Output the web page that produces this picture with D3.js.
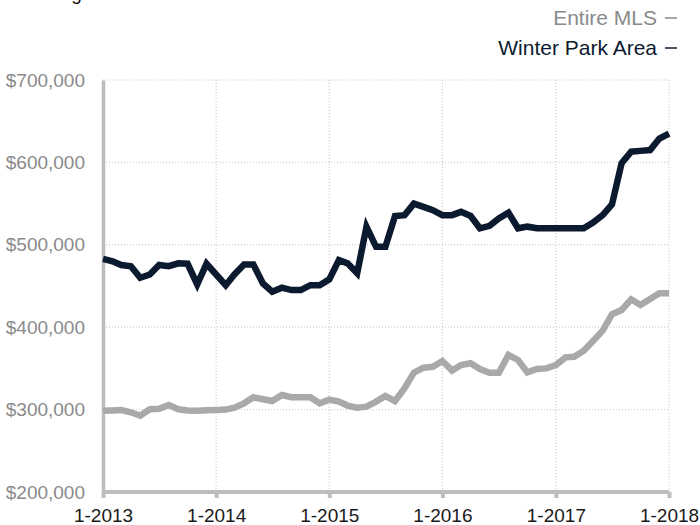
<!DOCTYPE html>
<html>
<head>
<meta charset="utf-8">
<script src="https://cdn.jsdelivr.net/npm/d3@7"></script>
<style>
  body { margin: 0; background: #fff; }
  svg { font-family: "Liberation Sans", Arial, sans-serif; }
</style>
</head>
<body>
<svg id="chart" width="700" height="525"></svg>
<script>
// monthly values, 1-2013 .. 1-2018
var winterPark = [
    483000, 480000, 475500, 474000, 460000, 464000, 475500, 474000, 477500, 477000, 452000, 477000,
    464000, 451000, 464000, 476000, 476000, 453000, 443000, 448000, 445000, 445000, 451000, 451000,
    458000, 481500, 477500, 465500, 522000, 497500, 497500, 535000, 536000, 550000, 546000, 542000,
    536000, 536000, 540000, 535000, 520000, 523000, 532000, 539000, 520000, 522000, 520000, 520000,
    520000, 520000, 520000, 520000, 527000, 536000, 549000, 599000, 613000, 614000, 615000, 629000,
    635000
];
var entireMLS = [
    298500, 299000, 299500, 296700, 292600, 300400, 301000, 305600, 300400, 299000, 298500, 299300,
    299600, 300000, 302300, 307600, 314900, 312500, 310400, 317700, 315000, 315000, 315000, 307600,
    312000, 309700, 304900, 302400, 303600, 309700, 316500, 310400, 326000, 344800, 350900, 352000,
    359000, 347300, 354000, 356200, 349300, 344800, 344800, 366300, 360200, 345200, 349300, 350000,
    354000, 363400, 364200, 371500, 383300, 395800, 415600, 420900, 433800, 426900, 434200, 441100,
    441100
];
var yTicks = [200000, 300000, 400000, 500000, 600000, 700000];
var xTickLabels = ['1-2013', '1-2014', '1-2015', '1-2016', '1-2017', '1-2018'];
var legendLabels = ['Entire MLS', 'Winter Park Area'];

var svg = d3.select('#chart');
var plotLeft = 103, plotRight = 669, plotTop = 80, plotBottom = 492;

var months = winterPark.map((d, i) => new Date(2013, i, 1));
var xTicks = xTickLabels.map(s => new Date(+s.split('-')[1], 0, 1));

var x = d3.scaleTime()
            .domain([new Date(2013, 0, 1), new Date(2018, 0, 1)])
            .range([plotLeft, plotRight]);
var y = d3.scaleLinear()
            .domain([200000, 700000])
            .range([plotBottom, plotTop]);

// title, cut off at the top of the picture
svg.append('text')
    .attr('x', 22)
    .attr('y', 0)
    .style('font-size', '19px')
    .attr('fill', '#111')
    .text('Average')
  .append('tspan')
    .attr('fill', '#999')
    .text(' Sales Price in the Winter Park Area');

// grid
var grid = svg.append('g');
grid.selectAll('.hgrid')
    .data(yTicks.slice(1))
    .enter()
    .append('line')
        .attr('x1', plotLeft)
        .attr('x2', plotRight)
        .attr('y1', d => y(d))
        .attr('y2', d => y(d))
        .attr('stroke', '#c4c4c4')
        .attr('stroke-width', 1)
        .attr('stroke-dasharray', '1,2');
grid.selectAll('.vgrid')
    .data(xTicks.slice(1))
    .enter()
    .append('line')
        .attr('x1', d => x(d))
        .attr('x2', d => x(d))
        .attr('y1', plotTop)
        .attr('y2', plotBottom)
        .attr('stroke', '#c4c4c4')
        .attr('stroke-width', 1)
        .attr('stroke-dasharray', '1,2');

// y axis
var yAxis = svg.append('g')
    .attr('transform', `translate(${plotLeft}, 0)`)
    .call(d3.axisLeft(y).tickValues(yTicks).tickSize(0).tickPadding(18)
            .tickFormat(d => '$' + d3.format(',')(d)));
yAxis.select('.domain').attr('stroke', '#bdbdbd').attr('stroke-width', 3.5);
yAxis.selectAll('text')
    .attr('fill', '#8a8a8a')
    .style('font-size', '19px')
    .style('font-family', '"Liberation Sans", Arial, sans-serif');

// x axis
var xAxis = svg.append('g')
    .attr('transform', `translate(0, ${plotBottom})`)
    .call(d3.axisBottom(x).tickValues(xTicks).tickSize(6).tickPadding(11)
            .tickFormat((d, i) => xTickLabels[i]));
xAxis.select('.domain').attr('stroke', '#bdbdbd').attr('stroke-width', 4)
    .attr('d', `M${plotLeft},0H${plotRight}`);
xAxis.selectAll('.tick line').attr('stroke', '#bdbdbd').attr('stroke-width', 4);
xAxis.selectAll('text')
    .attr('fill', '#1a1a1a')
    .style('font-size', '19px')
    .style('font-family', '"Liberation Sans", Arial, sans-serif');

// lines
var line = d3.line()
    .x((d, i) => x(months[i]))
    .y(d => y(d));

svg.append('path')
    .datum(entireMLS)
    .attr('fill', 'none')
    .attr('stroke', '#a9a9a9')
    .attr('stroke-width', 6.5)
    .attr('d', line);

svg.append('path')
    .datum(winterPark)
    .attr('fill', 'none')
    .attr('stroke', '#0b1a2f')
    .attr('stroke-width', 6.5)
    .attr('d', line);

// legend
var legendColors = ['#8a8a8a', '#0b1a2f'];
var legend = svg.selectAll('.legend')
    .data(legendLabels)
    .enter()
    .append('g')
        .attr('transform', (d, i) => `translate(0, ${25 + i * 30})`);
legend.append('text')
    .attr('x', 657)
    .attr('text-anchor', 'end')
    .style('font-size', '21px')
    .attr('fill', (d, i) => legendColors[i])
    .text(d => d);
legend.append('line')
    .attr('x1', 665)
    .attr('x2', 677)
    .attr('y1', -7)
    .attr('y2', -7)
    .attr('stroke', (d, i) => legendColors[i])
    .attr('stroke-width', 1.5);
</script>
</body>
</html>
